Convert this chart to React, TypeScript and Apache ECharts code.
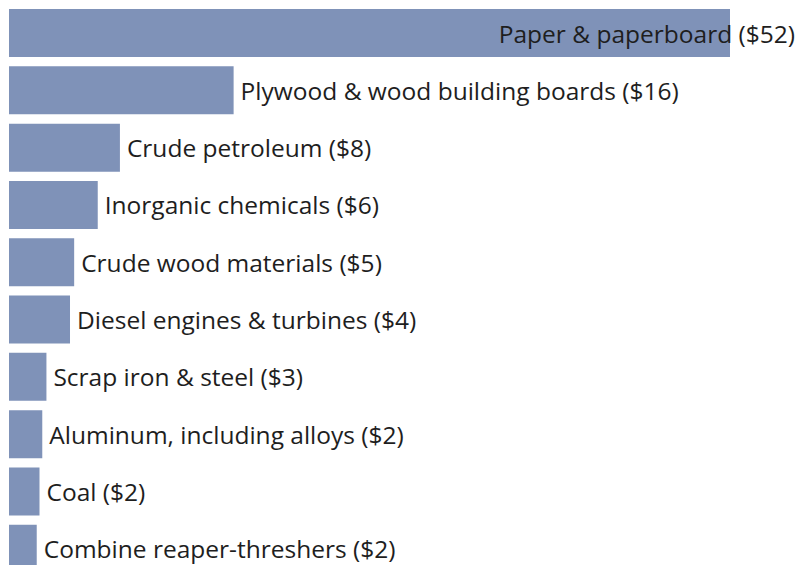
import React, { useEffect, useRef } from "react";
import * as echarts from "echarts";

const categories = [
  "Paper & paperboard",
  "Plywood & wood building boards",
  "Crude petroleum",
  "Inorganic chemicals",
  "Crude wood materials",
  "Diesel engines & turbines",
  "Scrap iron & steel",
  "Aluminum, including alloys",
  "Coal",
  "Combine reaper-threshers",
];
const values = [52, 16.2, 8.0, 6.4, 4.7, 4.4, 2.7, 2.4, 2.2, 2.0];

const BAR_COLOR = "#7F92B8";
const TEXT_COLOR = "#1E1E1E";
const FONT = "'Open Sans', 'Noto Sans', sans-serif";

export default function App() {
  const ref = useRef<HTMLDivElement>(null);
  useEffect(() => {
    if (!ref.current) return;
    const chart = echarts.init(ref.current, undefined, { renderer: "svg" });
    const labelFmt = (p: any) => `${p.name} ($${Math.round(p.value)})`;
    chart.setOption({
      animation: false,
      grid: { left: 9, top: 4.4, width: 721, height: 573, containLabel: false },
      xAxis: { type: "value", min: 0, max: 52, show: false },
      yAxis: {
        type: "category",
        data: categories,
        inverse: true,
        show: false,
      },
      series: [
        {
          type: "bar",
          barWidth: 48,
          itemStyle: { color: BAR_COLOR },
          label: {
            show: true,
            position: "right",
            distance: 7,
            formatter: labelFmt,
            color: TEXT_COLOR,
            fontSize: 24.5,
            fontFamily: FONT,
          },
          data: values.map((v, i) =>
            i === 0
              ? {
                  value: v,
                  label: { position: "insideRight", distance: 0, offset: [65, 0] },
                }
              : v
          ),
        },
      ],
    });
    return () => chart.dispose();
  }, []);
  return (
    <div
      ref={ref}
      style={{ position: "absolute", left: 0, top: 0, width: 799, height: 580 }}
    />
  );
}
